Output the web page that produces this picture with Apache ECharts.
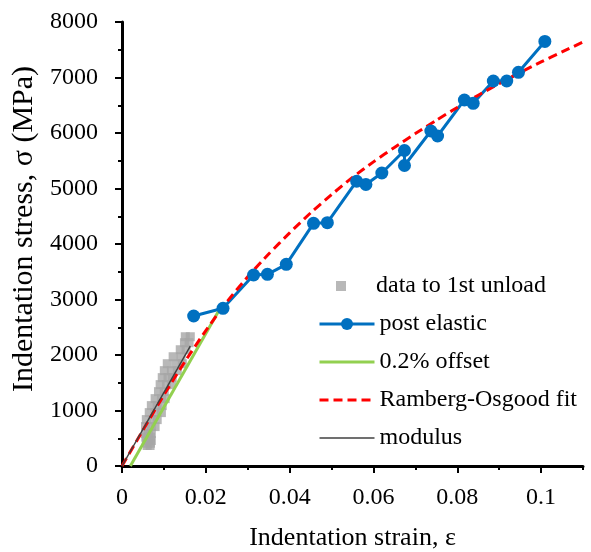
<!DOCTYPE html>
<html>
<head>
<meta charset="utf-8">
<title>Indentation stress-strain</title>
<script src="https://cdn.jsdelivr.net/npm/echarts@6.0.0/dist/echarts.min.js"></script>
<style>
    html, body { margin: 0; padding: 0; background: #fff; }
    #chart { width: 591px; height: 552px; }
</style>
</head>
<body>
<div id="chart"></div>
<script>
// data to 1st unload (grey squares)
var grayX = [0.0151, 0.0163, 0.0149, 0.0160, 0.0139, 0.0153, 0.0122, 0.0141,
    0.0108, 0.0129, 0.0144, 0.0101, 0.0118, 0.0132, 0.0096, 0.0110, 0.0120,
    0.0091, 0.0106, 0.0118, 0.0087, 0.0101, 0.0079, 0.0094, 0.0103,
    0.0070, 0.0084, 0.0096, 0.0065, 0.0079, 0.0094, 0.0058, 0.0072, 0.0084,
    0.0056, 0.0070, 0.0079, 0.0056, 0.0063, 0.0070, 0.0057, 0.0068,
    0.0058, 0.0064, 0.0070, 0.0061, 0.0068, 0.0060, 0.0067];
var grayY = [2329, 2329, 2221, 2221, 2095, 2095, 1969, 1969,
    1843, 1843, 1843, 1718, 1718, 1718, 1592, 1592, 1592,
    1466, 1466, 1466, 1340, 1340, 1214, 1214, 1214,
    1088, 1088, 1088, 962, 962, 962, 836, 836, 836,
    710, 710, 710, 585, 585, 585, 520, 520,
    459, 459, 459, 410, 410, 369, 369];

// post elastic
var postX = [0.0171, 0.0241, 0.0314, 0.0347, 0.0392, 0.0457, 0.0490, 0.0560, 0.0582, 0.0620,
    0.0674, 0.0674, 0.0737, 0.0753, 0.0817, 0.0838, 0.0886, 0.0918, 0.0946, 0.1009];
var postY = [2703, 2841, 3441, 3454, 3634, 4373, 4384, 5131, 5072, 5279,
    5685, 5414, 6036, 5946, 6595, 6535, 6937, 6937, 7094, 7650];

// 0.2% offset line
var offsetX = [0.002, 0.0235];
var offsetY = [0, 2850];

// Ramberg-Osgood fit
var fitX = [0, 0.005, 0.01, 0.015, 0.02, 0.025, 0.03, 0.035, 0.04, 0.045, 0.05, 0.055,
    0.06, 0.065, 0.07, 0.075, 0.08, 0.085, 0.09, 0.095, 0.1, 0.105, 0.11];
var fitY = [0, 645, 1280, 1880, 2440, 2955, 3410, 3820, 4200, 4560, 4890, 5200,
    5480, 5740, 5990, 6230, 6460, 6680, 6890, 7090, 7280, 7460, 7640];

// modulus line
var modX = [0, 0.0163];
var modY = [0, 2160];

var xLabels = [0, 0.02, 0.04, 0.06, 0.08, 0.1];

function pairs(xs, ys) {
    return xs.map(function (x, i) { return [x, ys[i]]; });
}

var font = 'Liberation Serif';
var chart = echarts.init(document.getElementById('chart'));
chart.setOption({
    animation: false,
    backgroundColor: '#fff',
    textStyle: { fontFamily: font, color: '#000' },
    grid: { left: 122, right: 8, top: 22, bottom: 86, outerBoundsMode: 'none' },
    legend: [
        {
            orient: 'vertical',
            left: 331,
            top: 269,
            itemWidth: 10,
            itemHeight: 10,
            itemGap: 13,
            textStyle: { fontFamily: font, fontSize: 24, color: '#000', padding: [0, 0, 0, 25] },
            data: [{ name: 'data to 1st unload', icon: 'rect' }]
        },
        {
            orient: 'vertical',
            left: 313,
            top: 307,
            itemWidth: 55,
            itemHeight: 15,
            itemGap: 14,
            textStyle: { fontFamily: font, fontSize: 24, color: '#000' },
            lineStyle: { width: 3 },
            data: [
                { name: 'post elastic' },
                { name: '0.2% offset', itemStyle: { opacity: 0 } },
                { name: 'Ramberg-Osgood fit', itemStyle: { opacity: 0 } },
                { name: 'modulus', itemStyle: { opacity: 0 }, lineStyle: { width: 1.5 } }
            ]
        }
    ],
    xAxis: [
        {
            type: 'value',
            min: 0,
            max: 0.11,
            interval: 0.01,
            name: 'Indentation strain, ε',
            nameLocation: 'middle',
            nameGap: 59,
            nameTextStyle: { fontFamily: font, fontSize: 26, color: '#000' },
            axisLine: { lineStyle: { color: '#000', width: 3 } },
            axisTick: { length: 4, lineStyle: { color: '#000', width: 2 } },
            axisLabel: { show: false },
            splitLine: { show: false }
        },
        {
            type: 'value',
            min: 0,
            max: 0.11,
            position: 'bottom',
            axisLine: { show: false },
            axisTick: { customValues: xLabels, length: 7, lineStyle: { color: '#000', width: 2 } },
            axisLabel: {
                customValues: xLabels,
                margin: 20,
                fontFamily: font,
                fontSize: 24,
                color: '#000'
            },
            splitLine: { show: false }
        }
    ],
    yAxis: {
        type: 'value',
        min: 0,
        max: 8000,
        interval: 1000,
        name: 'Indentation stress, σ (MPa)',
        nameLocation: 'middle',
        nameGap: 81,
        nameTextStyle: { fontFamily: font, fontSize: 30, color: '#000', padding: [0, 0, 0, 30] },
        axisLine: { show: true, lineStyle: { color: '#000', width: 3 } },
        axisTick: { show: true, length: 7, lineStyle: { color: '#000', width: 2 } },
        minorTick: { show: true, splitNumber: 2, length: 4, lineStyle: { color: '#000', width: 2 } },
        axisLabel: {
            margin: 24,
            fontFamily: font,
            fontSize: 24,
            color: '#000',
            formatter: function (v) { return String(v); }
        },
        splitLine: { show: false }
    },
    series: [
        {
            name: 'data to 1st unload',
            type: 'scatter',
            symbol: 'rect',
            symbolSize: 9,
            itemStyle: { color: '#a6a6a6' },
            data: pairs(grayX, grayY)
        },
        {
            name: 'post elastic',
            type: 'line',
            symbol: 'circle',
            symbolSize: 13,
            lineStyle: { color: '#0070c0', width: 3 },
            itemStyle: { color: '#0070c0' },
            data: pairs(postX, postY)
        },
        {
            name: '0.2% offset',
            type: 'line',
            symbol: 'none',
            lineStyle: { color: '#92d050', width: 3 },
            itemStyle: { color: '#92d050' },
            data: pairs(offsetX, offsetY)
        },
        {
            name: 'Ramberg-Osgood fit',
            type: 'line',
            symbol: 'none',
            smooth: 0.2,
            lineStyle: { color: '#ff0000', width: 3, type: [9, 5] },
            itemStyle: { color: '#ff0000' },
            data: pairs(fitX, fitY)
        },
        {
            name: 'modulus',
            type: 'line',
            symbol: 'none',
            lineStyle: { color: '#404040', width: 1.5 },
            itemStyle: { color: '#404040' },
            data: pairs(modX, modY)
        }
    ]
});
</script>
</body>
</html>
